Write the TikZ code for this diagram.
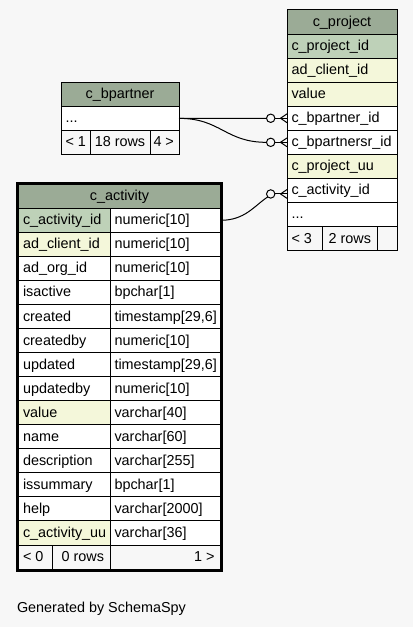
\documentclass[tikz,border=0pt]{standalone}
\usepackage{fontspec}
\setmainfont{Liberation Sans}
\usetikzlibrary{calc}
\definecolor{bgc}{HTML}{F7F7F7}
\definecolor{headc}{HTML}{9BAB96}
\definecolor{pkc}{HTML}{BED1B8}
\definecolor{idxc}{HTML}{F4F7DA}
\tikzset{
  cellbox/.style={draw=black, line width=0.75pt, rectangle, inner sep=0pt, outer sep=0pt, anchor=north west},
  txt/.style={inner sep=0pt, outer sep=0pt, font=\fontsize{10.8pt}{12pt}\selectfont},
  conn/.style={draw=black, line width=0.75pt},
  ring/.style={circle, draw=black, fill=bgc, line width=0.75pt, minimum size=6.3pt, inner sep=0pt, outer sep=0pt},
  frame/.style={draw=black, line width=2pt, rectangle, inner sep=0pt, outer sep=0pt, anchor=north west},
}
% name x1 y1 x2 y2 fill
\newcommand\tcell[6]{\node[cellbox, fill=#6, minimum width={(#4-(#2))*0.75pt}, minimum height={(#5-(#3))*0.75pt}] (#1) at (#2,#3) {};}
\newcommand\rowL[7]{\tcell{#1}{#2}{#3}{#4}{#5}{#6}\node[txt, anchor=base west] (#1-t) at ($(#1.north west)+(4.5,16.5)$) {#7};}
\newcommand\rowC[7]{\tcell{#1}{#2}{#3}{#4}{#5}{#6}\node[txt, anchor=base] (#1-t) at ($(#1.north)+(0,16.5)$) {#7};}
\newcommand\rowR[7]{\tcell{#1}{#2}{#3}{#4}{#5}{#6}\node[txt, anchor=base east] (#1-t) at ($(#1.north east)+(-6,16.5)$) {#7};}
\newcommand\crowfoot[2]{%
  \draw[conn] (#1.east) -- (#2);
  \draw[conn] ($(#2)+(-6.5,0)$) -- ($(#2)+(0,-4.4)$);
  \draw[conn] ($(#2)+(-6.5,0)$) -- ($(#2)+(0,4.4)$);}
% index name type fill
\newcommand\carow[4]{%
  \pgfmathsetmacro\ya{208.3+24.05*#1}%
  \pgfmathsetmacro\yb{208.3+24.05*(#1+1)}%
  \rowL{ca-name#1}{18.5}{\ya}{110}{\yb}{#4}{#2}
  \rowL{ca-type#1}{110}{\ya}{220.5}{\yb}{white}{#3}}
\begin{document}
\begin{tikzpicture}[x=0.75pt, y=-0.75pt]
\fill[bgc] (0,0) rectangle (413,627);
\useasboundingbox (0,0) rectangle (413,627);

% ---------- c_project ----------
\rowC{cp-head}{287}{10}{397}{34.06}{headc}{c\_project}
\rowL{cp-pid}{287}{34.06}{397}{58.12}{pkc}{c\_project\_id}
\rowL{cp-cli}{287}{58.12}{397}{82.18}{idxc}{ad\_client\_id}
\rowL{cp-val}{287}{82.18}{397}{106.24}{idxc}{value}
\rowL{cp-bp}{287}{106.24}{397}{130.3}{white}{c\_bpartner\_id}
\rowL{cp-bpsr}{287}{130.3}{397}{154.36}{white}{c\_bpartnersr\_id}
\rowL{cp-uu}{287}{154.36}{397}{178.42}{idxc}{c\_project\_uu}
\rowL{cp-act}{287}{178.42}{397}{202.48}{white}{c\_activity\_id}
\rowL{cp-dots}{287}{202.48}{397}{226.54}{white}{...}
\rowL{cp-f1}{287}{226.54}{322.5}{250.6}{bgc}{< 3}
\rowC{cp-f2}{322.5}{226.54}{377.3}{250.6}{bgc}{2 rows}
\tcell{cp-f3}{377.3}{226.54}{397}{250.6}{bgc}

% ---------- c_bpartner ----------
\rowC{bp-head}{61}{82.3}{179}{106.4}{headc}{c\_bpartner}
\rowL{bp-dots}{61}{106.4}{179}{130.3}{white}{...}
\rowL{bp-f1}{61}{130.3}{90}{154.3}{bgc}{< 1}
\rowC{bp-f2}{90}{130.3}{150}{154.3}{bgc}{18 rows}
\tcell{bp-f3}{150}{130.3}{179}{154.3}{bgc}
\node[txt, anchor=base west] (bp-f3-t) at ($(bp-f3.north west)+(3.5,16.5)$) {4 >};

% ---------- c_activity ----------
\rowC{ca-head}{18.5}{184}{220.5}{208.3}{headc}{c\_activity}
\carow{0}{c\_activity\_id}{numeric[10]}{pkc}
\carow{1}{ad\_client\_id}{numeric[10]}{idxc}
\carow{2}{ad\_org\_id}{numeric[10]}{white}
\carow{3}{isactive}{bpchar[1]}{white}
\carow{4}{created}{timestamp[29,6]}{white}
\carow{5}{createdby}{numeric[10]}{white}
\carow{6}{updated}{timestamp[29,6]}{white}
\carow{7}{updatedby}{numeric[10]}{white}
\carow{8}{value}{varchar[40]}{idxc}
\carow{9}{name}{varchar[60]}{white}
\carow{10}{description}{varchar[255]}{white}
\carow{11}{issummary}{bpchar[1]}{white}
\carow{12}{help}{varchar[2000]}{white}
\carow{13}{c\_activity\_uu}{varchar[36]}{idxc}
\rowL{ca-f1}{18.5}{545}{52.3}{570}{bgc}{< 0}
\rowR{ca-f2}{52.3}{545}{110}{570}{bgc}{0 rows}
\rowR{ca-f3}{110}{545}{220.5}{570}{bgc}{1 >}
\node[frame, minimum width={204.3*0.75pt}, minimum height={387.5*0.75pt}] (ca-frame) at (17,183.2) {};

% ---------- relationship ends ----------
\coordinate (t1) at (cp-bp.west);
\coordinate (t2) at (cp-bpsr.west);
\coordinate (t3) at ($(cp-act.west)+(0,3.5)$);
\node[ring] (o1) at ($(t1)+(-16.3,0)$) {};
\node[ring] (o2) at ($(t2)+(-16.3,0)$) {};
\node[ring] (o3) at ($(t3)+(-16.3,0)$) {};
\crowfoot{o1}{t1}
\crowfoot{o2}{t2}
\crowfoot{o3}{t3}

% ---------- connectors ----------
\draw[conn] (bp-dots.east) -- (o1.west);
\draw[conn] (bp-dots.east) .. controls (221,118.4) and (225,142.3) .. (o2.west);
\draw[conn] (ca-type0.east) .. controls (245,220.3) and (254,206) .. (o3.225);

% ---------- caption ----------
\node[txt, anchor=base west] (caption) at (17,612) {Generated by SchemaSpy};
\end{tikzpicture}
\end{document}
